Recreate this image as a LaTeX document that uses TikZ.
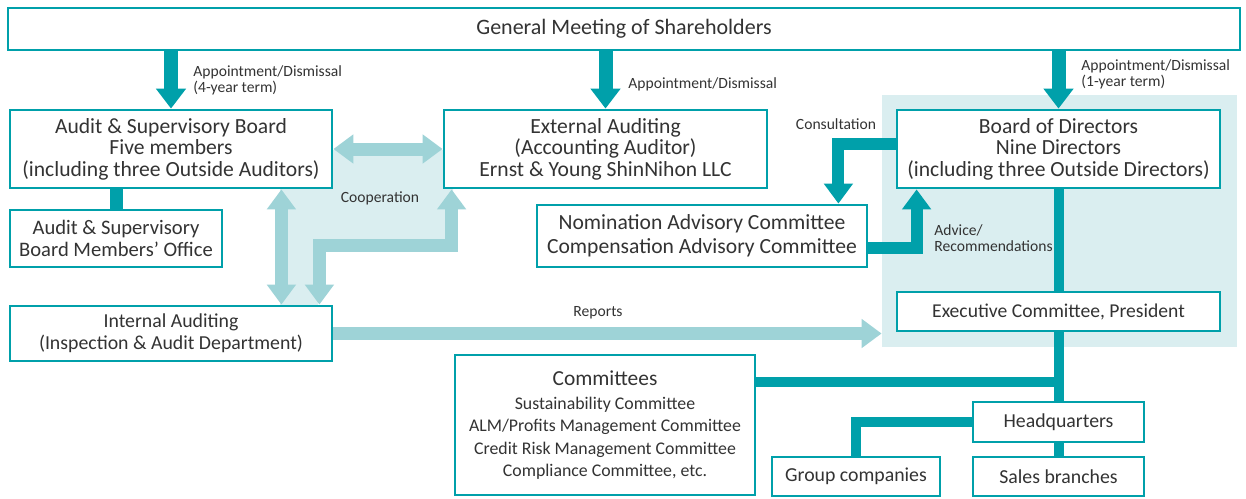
\documentclass[tikz,border=0pt]{standalone}
\usepackage{fontspec}
\setmainfont{Carlito}
\usetikzlibrary{arrows.meta}
\definecolor{tealdark}{HTML}{00A0AA}
\definecolor{teallight}{HTML}{9ED3D7}
\definecolor{tealpale}{HTML}{DAEEF0}
\definecolor{txtgray}{HTML}{333333}

\begin{document}
\begin{tikzpicture}[x=0.5pt, y=-0.5pt,
  every node/.style = {text=txtgray, align=center, inner sep=0pt},
  box/.style = {shape=rectangle, draw=tealdark, line width=1.4pt, fill=white,
    font=\fontsize{10.8}{10.8}\selectfont},
  panel/.style = {shape=rectangle, fill=tealpale},
  tag/.style = {font=\fontsize{7.8}{8}\selectfont},
  link/.style = {draw=tealdark, line width=5pt},
  push/.style = {draw=tealdark, line width=7pt, -{Triangle[length=10pt, width=14.5pt]}},
  hint/.style = {draw=tealdark, line width=6pt, -{Triangle[length=10pt, width=14pt]}},
  coop/.style = {draw=teallight, line width=6.5pt,
    {Triangle[length=10pt, width=14pt]}-{Triangle[length=10pt, width=14pt]}},
  report/.style = {draw=teallight, line width=6.5pt, -{Triangle[length=10pt, width=14pt]}}
  ]
  \useasboundingbox (0,0) rectangle (1246,498);
  % shaded areas
  \node (panel) [panel, minimum width=177.5pt, minimum height=126pt] at (1059.5,221) {};
  \fill[tealpale] (332,150) -- (444,150) -- (444,188) -- (453,188) -- (453,245) -- (318,245)
    -- (318,306) -- (280,306) -- (280,188) -- (332,188) -- cycle;

  % boxes
  \node (gm) [box, minimum width=616pt, minimum height=21pt, font=\fontsize{11}{11}\selectfont]
    at (624,29) {General Meeting of Shareholders};
  \node (asb) [box, minimum width=161pt, minimum height=39pt] at (171,149)
    {Audit \& Supervisory Board\\Five members\\(including three Outside Auditors)};
  \node (office) [box, minimum width=106pt, minimum height=28.5pt, font=\fontsize{10.3}{10.8}\selectfont]
    at (116,238.5) {Audit \& Supervisory\\Board Members’ Office};
  \node (ext) [box, minimum width=161.5pt, minimum height=39pt] at (605.5,149)
    {External Auditing\\(Accounting Auditor)\\Ernst \& Young ShinNihon LLC};
  \node (bod) [box, minimum width=161.5pt, minimum height=39pt] at (1058.5,149)
    {Board of Directors\\Nine Directors\\(including three Outside Directors)};
  \node (nom) [box, minimum width=165pt, minimum height=31pt, font=\fontsize{10.8}{12}\selectfont]
    at (702,236) {Nomination Advisory Committee\\Compensation Advisory Committee};
  \node (exec) [box, minimum width=161.5pt, minimum height=19.5pt, font=\fontsize{9.8}{10}\selectfont]
    at (1058.5,311.5) {Executive Committee, President};
  \node (ia) [box, minimum width=161pt, minimum height=27.5pt, font=\fontsize{9.9}{11}\selectfont]
    at (171,333.5) {Internal Auditing\\(Inspection \& Audit Department)};
  \node (com) [box, minimum width=150pt, minimum height=70pt, font=\fontsize{8.9}{11.3}\selectfont]
    at (605,425) {{\fontsize{10.7}{11.3}\selectfont Committees}\\[0.7pt]Sustainability Committee\\
    ALM/Profits Management Committee\\Credit Risk Management Committee\\Compliance Committee, etc.};
  \node (hq) [box, minimum width=85.5pt, minimum height=20pt, font=\fontsize{9.9}{10}\selectfont]
    at (1058.5,422) {Headquarters};
  \node (gc) [box, minimum width=84pt, minimum height=19.5pt, font=\fontsize{9.9}{10}\selectfont]
    at (856,476.5) {Group companies};
  \node (sb) [box, minimum width=85.5pt, minimum height=19.5pt, font=\fontsize{9.9}{10}\selectfont]
    at (1058.5,476.5) {Sales branches};

  % appointment / dismissal
  \draw[push] (gm.south -| asb.north) -- (asb.north);
  \draw[push] (gm.south -| ext.north) -- (ext.north);
  \draw[push] (gm.south -| bod.north) -- (bod.north);
  \node (lblasb) [tag, anchor=west, align=left] at (193,80) {Appointment/Dismissal\\(4-year term)};
  \node (lblext) [tag, anchor=west] at (628,84) {Appointment/Dismissal};
  \node (lblbod) [tag, anchor=west, align=left] at (1081,74) {Appointment/Dismissal\\(1-year term)};

  % advisory committees
  \draw[hint] ([yshift=2.5pt]bod.west) -| ([xshift=-15pt]nom.north east);
  \draw[hint] ([yshift=-6pt]nom.east) -| ([xshift=10.5pt]bod.south west);
  \node (lblcons) [tag] at (836,124) {Consultation};
  \node (lbladv) [tag, anchor=west, align=left] at (934,238) {Advice/\\Recommendations};

  % executive line
  \draw[link] (bod.south) -- (exec.north);
  \draw[link] (exec.south) -- (hq.north);
  \draw[link] ([yshift=21.5pt]com.east) -| (hq.north);
  \draw[link] (hq.west) -| (gc.north);
  \draw[link] (hq.south) -- (sb.north);
  \draw[link, line width=6.5pt] (asb.south -| office.north) -- (office.north);

  % cooperation
  \coordinate (coopbend) at (380,245);
  \draw[coop] (asb.east) -- (ext.west);
  \draw[coop] ([xshift=-26pt]asb.south east) -- ([xshift=-26pt]ia.north east);
  \draw[coop] ([xshift=-7pt]ia.north east) |- (coopbend) -| ([xshift=4.5pt]ext.south west);
  \node (lblcoop) [tag] at (380,198) {Cooperation};

  % reports
  \draw[report] (ia.east) -- (ia.east -| panel.west);
  \node (lblrep) [tag] at (598,313) {Reports};
\end{tikzpicture}
\end{document}
